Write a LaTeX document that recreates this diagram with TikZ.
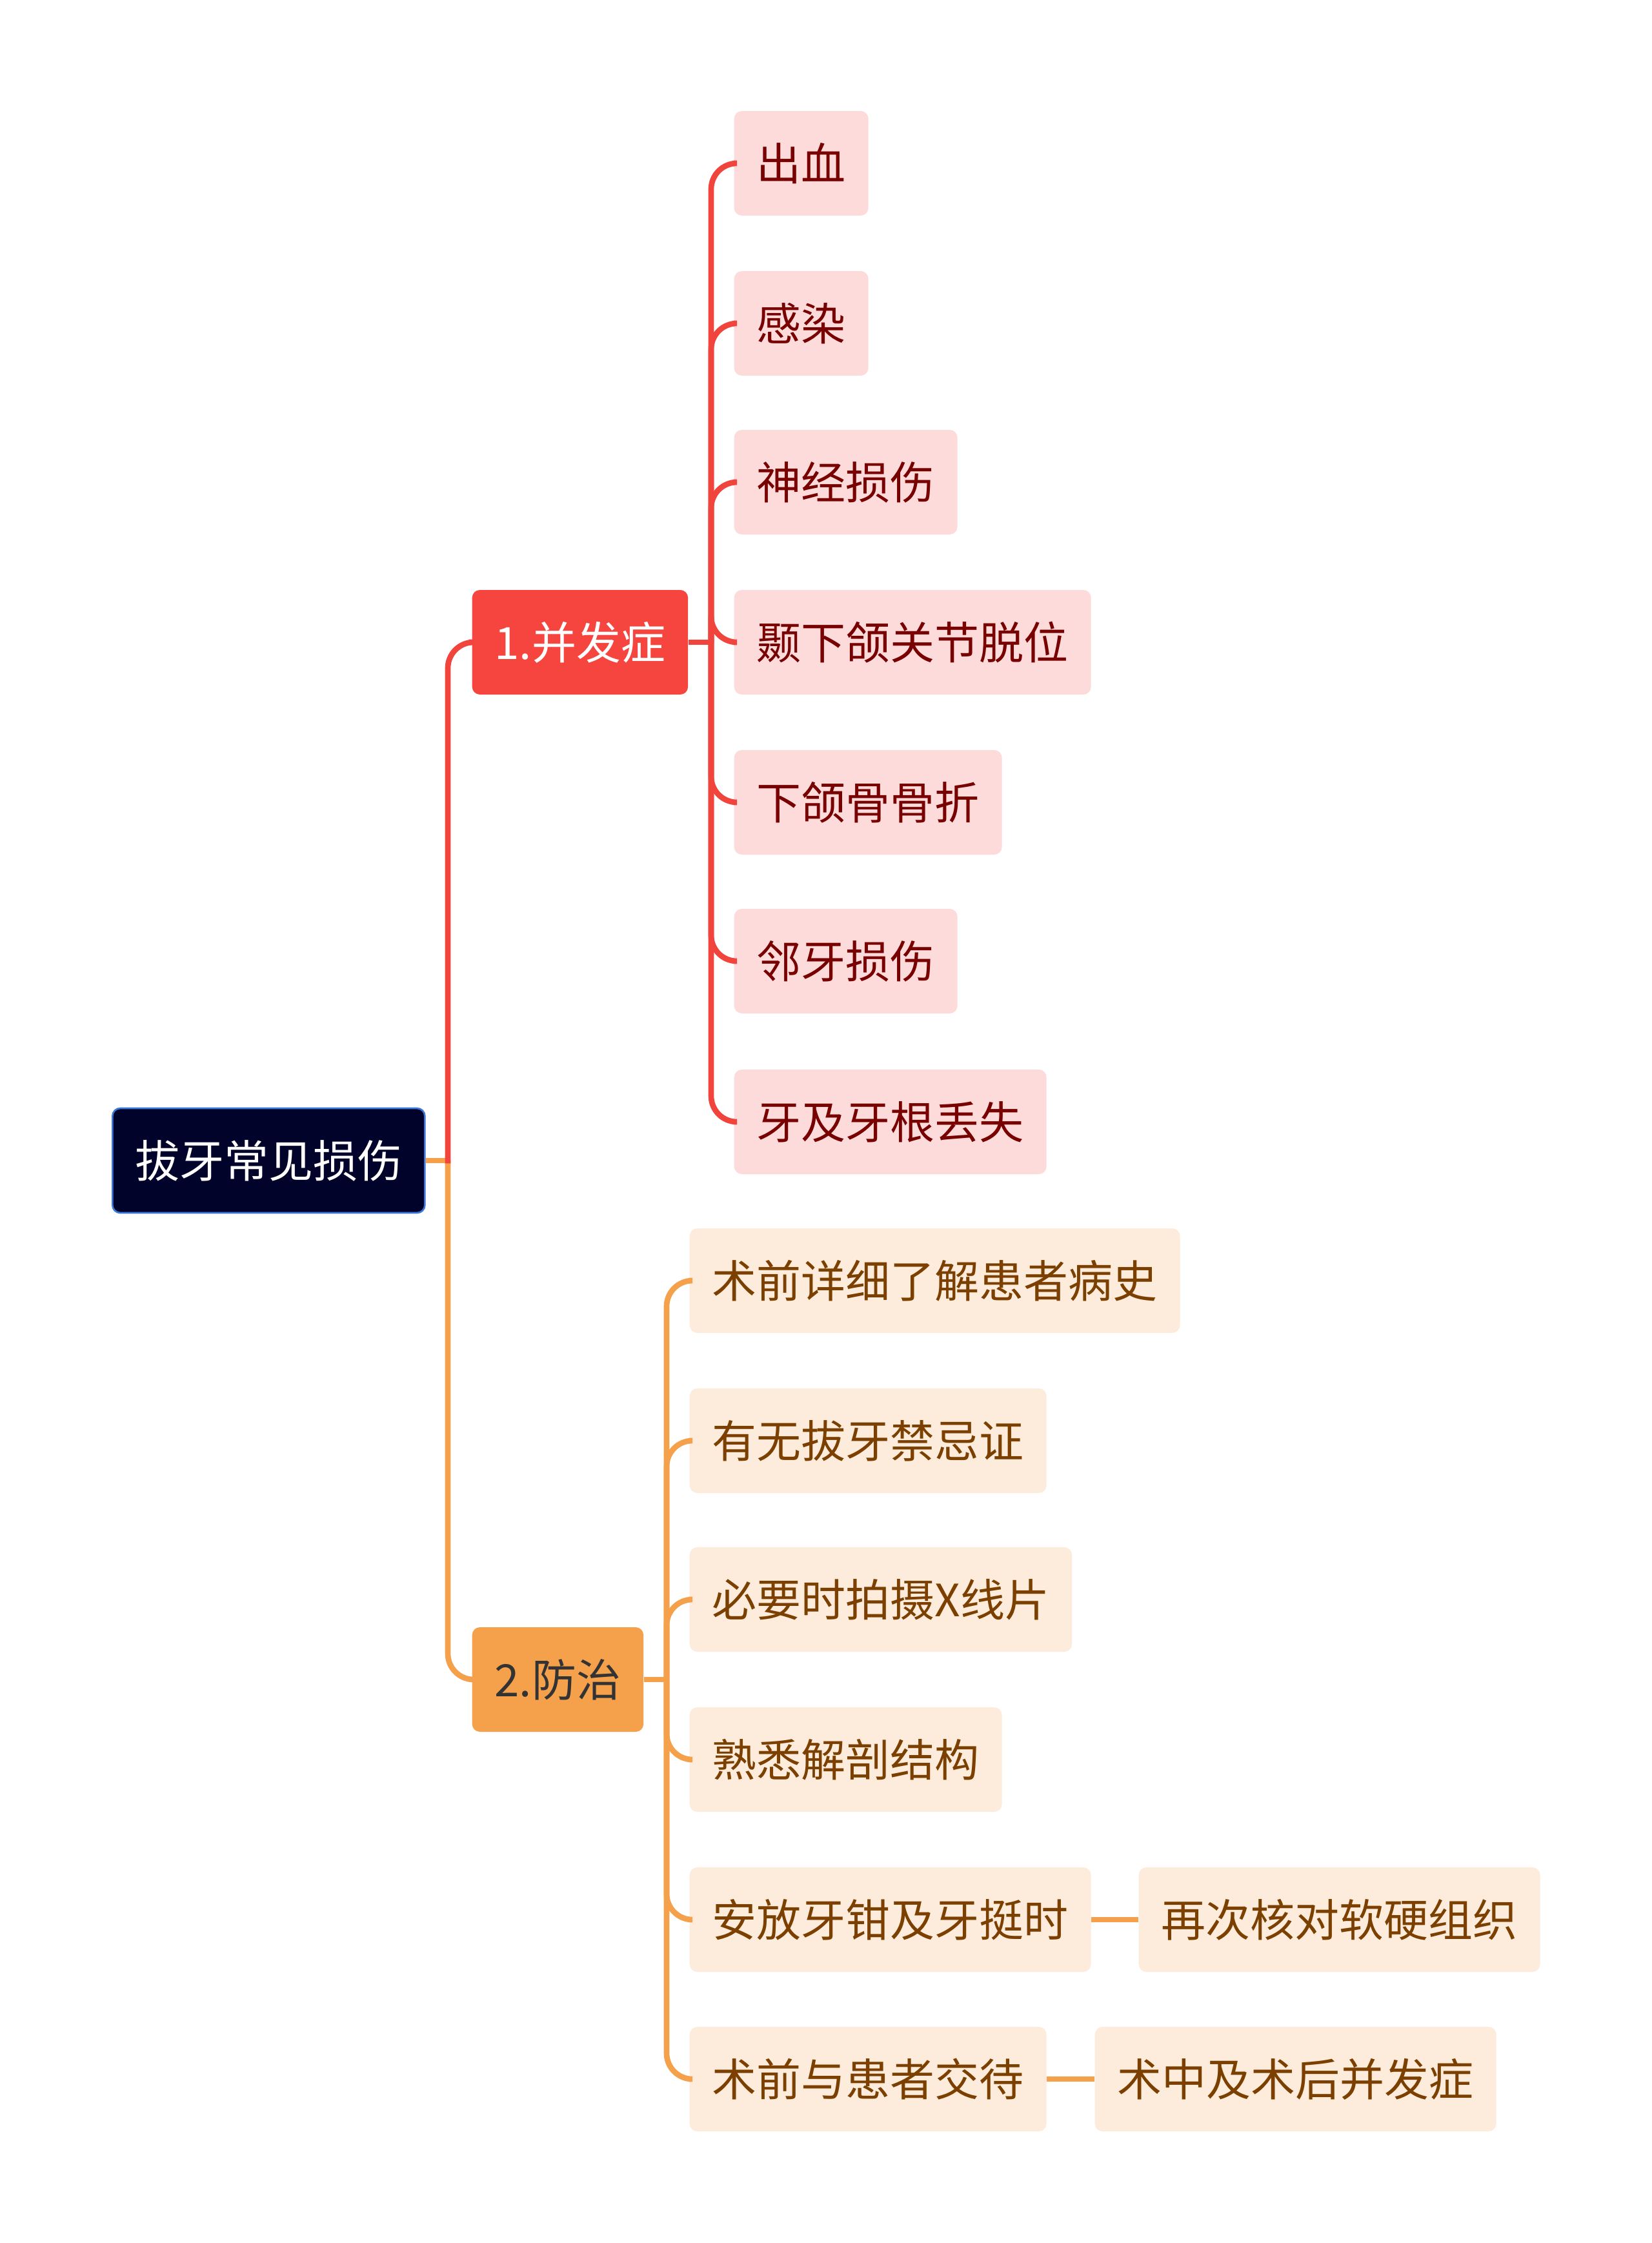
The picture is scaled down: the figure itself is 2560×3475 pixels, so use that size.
\documentclass[tikz,border=0pt]{standalone}
\usepackage{fontspec}
\setmainfont{Noto Sans CJK SC}
\definecolor{redmain}{HTML}{F5453E}
\definecolor{redline}{HTML}{F0443C}
\definecolor{redchild}{HTML}{FDDBDB}
\definecolor{redtext}{HTML}{780000}
\definecolor{orgmain}{HTML}{F5A14C}
\definecolor{orgchild}{HTML}{FDEBDC}
\definecolor{orgtext}{HTML}{7B3F00}
\definecolor{rootfill}{HTML}{02032A}
\definecolor{rootborder}{HTML}{3C78D8}
\definecolor{darktext}{HTML}{333333}
\tikzset{
  box/.style={anchor=west, rounded corners=3.6pt, minimum height=48.6pt, inner xsep=10.5pt, inner ysep=0pt, font=\fontsize{20.7pt}{24pt}\selectfont},
  rootbox/.style={box, fill=rootfill, draw=rootborder, line width=0.8pt, text=white},
  redhead/.style={box, fill=redmain, text=white},
  orghead/.style={box, fill=orgmain, text=darktext},
  redleaf/.style={box, fill=redchild, text=redtext},
  orgleaf/.style={box, fill=orgchild, text=orgtext},
  redconn/.style={draw=redline, line width=2.6pt, rounded corners=12pt},
  orgconn/.style={draw=orgmain, line width=2.6pt, rounded corners=12pt}
}
\begin{document}
\begin{tikzpicture}[x=0.3pt, y=-0.3pt]
\useasboundingbox[fill=white] (0,0) rectangle (2560,3475);
% nodes
\node[rootbox] (root) at (173,1798) {拔牙常见损伤};
\node[redhead] (bf) at (731,995) {1.并发症};
\node[orghead] (fz) at (731,2602) {2.防治};
\node[redleaf] (r1) at (1137,253) {出血};
\node[redleaf] (r2) at (1137,501) {感染};
\node[redleaf] (r3) at (1137,747) {神经损伤};
\node[redleaf] (r4) at (1137,995) {颞下颌关节脱位};
\node[redleaf] (r5) at (1137,1243) {下颌骨骨折};
\node[redleaf] (r6) at (1137,1489) {邻牙损伤};
\node[redleaf] (r7) at (1137,1738) {牙及牙根丢失};
\node[orgleaf] (o1) at (1068,1984) {术前详细了解患者病史};
\node[orgleaf] (o2) at (1068,2232) {有无拔牙禁忌证};
\node[orgleaf] (o3) at (1068,2478) {必要时拍摄X线片};
\node[orgleaf] (o4) at (1068,2726) {熟悉解剖结构};
\node[orgleaf] (o5) at (1068,2974) {安放牙钳及牙挺时};
\node[orgleaf] (o6) at (1068,3221) {术前与患者交待};
\node[orgleaf] (g1) at (1764,2974) {再次核对软硬组织};
\node[orgleaf] (g2) at (1696,3221) {术中及术后并发症};
% junctions
\coordinate (rj) at (694,1798);
\coordinate (bj) at (1102,995);
\coordinate (fj) at (1033,2602);
% connectors
\draw[orgconn] (root.east) -- (rj);
\draw[orgconn] (rj) |- (fz.west);
\draw[redconn, line cap=rect] (rj) |- (bf.west);
\draw[redconn] (bf.east) -- (bj);
\foreach \n in {r1,r2,r3,r4,r5,r6,r7} {\draw[redconn] (bj) |- (\n.west);}
\draw[orgconn] (fz.east) -- (fj);
\foreach \n in {o1,o2,o3,o4,o5,o6} {\draw[orgconn] (fj) |- (\n.west);}
\draw[orgconn] (o5.east) -- (g1.west);
\draw[orgconn] (o6.east) -- (g2.west);
\end{tikzpicture}
\end{document}
